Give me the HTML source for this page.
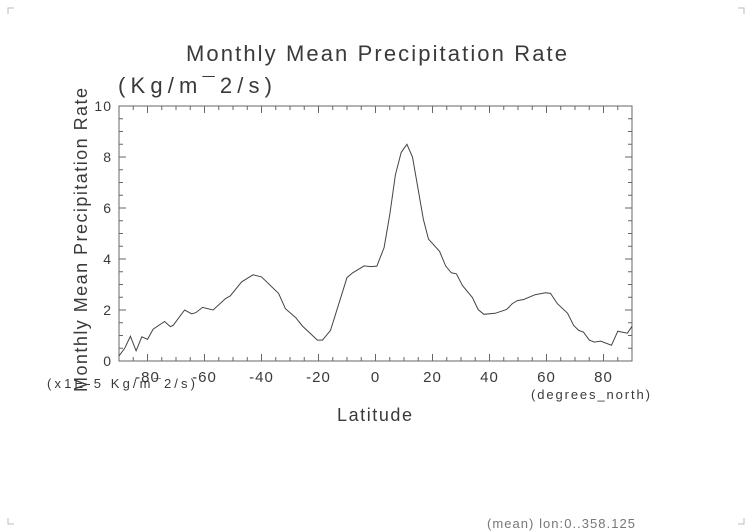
<!DOCTYPE html>
<html><head><meta charset="utf-8"><style>
html,body{margin:0;padding:0;background:#fff;}
svg{display:block;font-family:"Liberation Sans",sans-serif;}
text{fill:#3a3a3a;}
</style></head><body>
<svg id="chart" width="752" height="532" viewBox="0 0 752 532" xmlns="http://www.w3.org/2000/svg">
<g stroke="#bbb" stroke-width="1" fill="none">
<path d="M8 14V8H14"/><path d="M738 8H744V14"/><path d="M8 518V524H14"/><path d="M738 524H744V518"/>
</g>
<text x="186" y="61" font-size="22" textLength="381" lengthAdjust="spacing">Monthly Mean Precipitation Rate</text>
<text x="118" y="93" font-size="22" textLength="154" lengthAdjust="spacing">(Kg/m¯2/s)</text>
<text transform="translate(87,392) rotate(-90)" font-size="18" textLength="304" lengthAdjust="spacing">Monthly Mean Precipitation Rate</text>
<text x="337" y="421" font-size="18" textLength="75" lengthAdjust="spacing">Latitude</text>
<text x="47" y="388" font-size="13" textLength="148" lengthAdjust="spacing">(x1E-5 Kg/m¯2/s)</text>
<text x="531" y="399" font-size="13" textLength="119" lengthAdjust="spacing">(degrees_north)</text>
<text x="487" y="528" font-size="13" textLength="148" lengthAdjust="spacing" style="fill:#777">(mean) lon:0..358.125</text>
<g id="axes"></g>
<g id="marks"></g>
</svg>
<script>
const lats = [-90,-88,-86,-84,-82,-80,-78,-74,-72,-71,-67,-64.5,-63,-60.7,-57,-52.6,-51,-47,-43,-40,-34,-31.6,-28,-25.6,-20.4,-18.6,-15.8,-10,-8,-4,-1.7,0.5,3,5,7,9,11,13,16.8,18.6,22.5,24.6,26.6,28.4,30.5,34,36,38,42,46,48,49.8,52,56,59.6,61.4,63.8,67.4,69.5,71.3,73,75,76.8,79,82.8,85,88.4,90];
const precip = [0.2,0.5,0.97,0.4,0.95,0.85,1.25,1.55,1.35,1.4,2.0,1.85,1.9,2.1,2.0,2.45,2.55,3.1,3.38,3.3,2.65,2.05,1.7,1.37,0.82,0.82,1.2,3.27,3.46,3.73,3.7,3.72,4.45,5.75,7.3,8.18,8.5,8.0,5.55,4.78,4.3,3.73,3.46,3.42,2.96,2.49,2.02,1.83,1.87,2.02,2.25,2.37,2.41,2.6,2.68,2.65,2.25,1.87,1.4,1.2,1.13,0.82,0.74,0.78,0.62,1.17,1.09,1.36];
const xTicks = [-80,-60,-40,-20,0,20,40,60,80];
const yTicks = [0,2,4,6,8,10];
const L=119,R=632,T=106,B=361;
const xs = v => L + (v+90)/180*(R-L);
const ys = v => B - v/10*(B-T);
const NS="http://www.w3.org/2000/svg";
const axes=document.getElementById('axes'), marks=document.getElementById('marks');
function mk(tag,attrs,parent){const e=document.createElementNS(NS,tag);for(const k in attrs)e.setAttribute(k,attrs[k]);parent.appendChild(e);return e;}
const frame=mk('rect',{x:L,y:T,width:R-L,height:B-T,fill:'none',stroke:'#666','stroke-width':1},axes);


let d='';
for(let v=-90;v<=90;v+=5){const x=xs(v);const len=(v%20===0)?7:4;d+=`M${x} ${B}v${-len}M${x} ${T}v${len}`;}
for(let v=0;v<=10;v+=0.5){const y=ys(v);const len=(v%2===0)?7:4;d+=`M${L} ${y}h${len}M${R} ${y}h${-len}`;}
const tk=mk('path',{d:d,stroke:'#666','stroke-width':1,fill:'none'},axes);


xTicks.forEach(v=>{const t=mk('text',{x:xs(v),y:B+21,'font-size':15,'text-anchor':'middle','letter-spacing':1},axes);t.textContent=v;

});
yTicks.forEach(v=>{const t=mk('text',{x:L-7,y:ys(v)+5,'font-size':14,'text-anchor':'end','letter-spacing':1},axes);t.textContent=v;

});
const pts=lats.map((la,i)=>`${xs(la).toFixed(1)},${ys(precip[i]).toFixed(1)}`).join(' ');
const line=mk('polyline',{points:pts,fill:'none',stroke:'#444','stroke-width':1},marks);


</script>
</body></html>
